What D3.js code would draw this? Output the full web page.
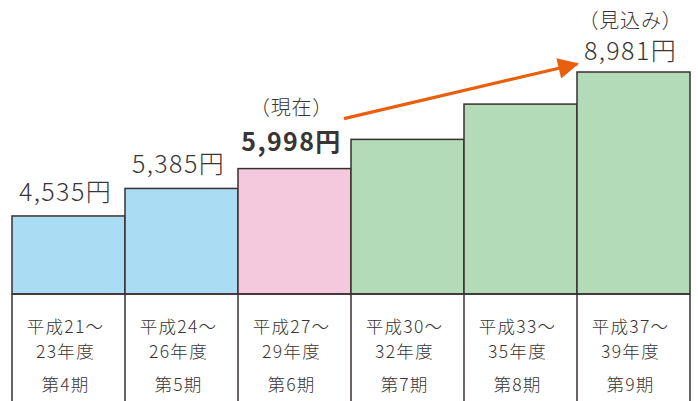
<!DOCTYPE html>
<html lang="ja">
<head>
<meta charset="UTF-8">
<title>保険料の推移</title>
<script src="https://d3js.org/d3.v7.min.js"></script>
<style>
  body { margin: 0; background: #fff; }
  svg { display: block; font-family: "Noto Sans CJK JP", "Noto Sans", sans-serif; }
  .bar { stroke: #3a3030; stroke-width: 1.5; }
  .grid { stroke: #3a3030; stroke-width: 1.5; }
  .cell text { fill: #3a3535; font-size: 17.5px; font-weight: 300; text-anchor: middle; letter-spacing: 1.3px; }
  .val { fill: #3a3535; font-size: 25px; font-weight: 300; text-anchor: middle; letter-spacing: 1.4px; }
  .note { fill: #3a3535; font-size: 20px; font-weight: 300; text-anchor: middle; letter-spacing: 0.8px; }
</style>
</head>
<body>
<svg id="chart" width="698" height="401"></svg>
<script>
// data
const periods = ["第4期", "第5期", "第6期", "第7期", "第8期", "第9期"];
const yearFrom = ["平成21～", "平成24～", "平成27～", "平成30～", "平成33～", "平成37～"];
const yearTo = ["23年度", "26年度", "29年度", "32年度", "35年度", "39年度"];
const amounts = [4535, 5385, 5998, 6900, 7990, 8981];
const amountLabels = ["4,535円", "5,385円", "5,998円", null, null, "8,981円"];
const notes = [null, null, "（現在）", null, null, "（見込み）"];
const colors = ["#aadcf4", "#aadcf4", "#f5c9dd", "#b4dbb8", "#b4dbb8", "#b4dbb8"];

const svg = d3.select("#chart");
const base = 294;

const x = d3.scaleBand().domain(periods).range([12, 690]).padding(0);
const y = d3.scaleLinear().domain([2125, 8981]).range([base, 72]);

// bars
svg.selectAll(".bar")
  .data(periods)
  .enter().append("rect")
  .attr("class", "bar")
  .attr("x", d => x(d))
  .attr("y", (d, i) => y(amounts[i]))
  .attr("width", x.bandwidth())
  .attr("height", (d, i) => base - y(amounts[i]))
  .attr("fill", (d, i) => colors[i]);

// table lines under the bars
svg.append("line").attr("class", "grid")
  .attr("x1", 12).attr("x2", 690).attr("y1", base).attr("y2", base);
const edges = periods.map(d => x(d)).concat([x(periods[periods.length - 1]) + x.bandwidth()]);
svg.selectAll(".vline")
  .data(edges)
  .enter().append("line")
  .attr("class", "grid")
  .attr("x1", d => d).attr("x2", d => d)
  .attr("y1", base).attr("y2", 401);

// table text
const cell = svg.selectAll(".cell")
  .data(periods)
  .enter().append("g")
  .attr("class", "cell")
  .attr("transform", d => `translate(${x(d) + x.bandwidth() / 2 - 3},0)`);
cell.append("text").attr("y", 333).text((d, i) => yearFrom[i]);
cell.append("text").attr("y", 358).text((d, i) => yearTo[i]);
cell.append("text").attr("y", 391).text(d => d);

// value labels
periods.forEach((p, i) => {
  const cx = x(p) + x.bandwidth() / 2 - 3;
  const top = y(amounts[i]);
  if (amountLabels[i]) {
    const off = i === 2 ? 18 : (i === 5 ? 12 : 15);
    svg.append("text").attr("class", "val")
      .attr("x", cx).attr("y", top - off)
      .style("font-weight", i === 2 ? 700 : 300)
      .text(amountLabels[i]);
  }
  if (notes[i]) {
    svg.append("text").attr("class", "note")
      .attr("x", cx).attr("y", top - (i === 5 ? 44 : 54))
      .text(notes[i]);
  }
});

// arrow from current to projection
const arrowColor = "#e8600e";
svg.append("defs").append("marker")
  .attr("id", "head")
  .attr("viewBox", "0 0 10 10")
  .attr("refX", 9).attr("refY", 5)
  .attr("markerWidth", 7.5).attr("markerHeight", 6.5)
  .attr("markerUnits", "strokeWidth")
  .attr("orient", "auto")
  .append("path").attr("d", "M0,0 L10,5 L0,10 z").attr("fill", arrowColor);

const x0 = x(periods[2]) + x.bandwidth() - 7;
const x1 = x(periods[5]);
svg.append("line")
  .attr("x1", x0).attr("y1", y(amounts[2]) - 50)
  .attr("x2", x1).attr("y2", y(amounts[5]) - 8)
  .attr("stroke", arrowColor)
  .attr("stroke-width", 3.2)
  .attr("marker-end", "url(#head)");
</script>
</body>
</html>
